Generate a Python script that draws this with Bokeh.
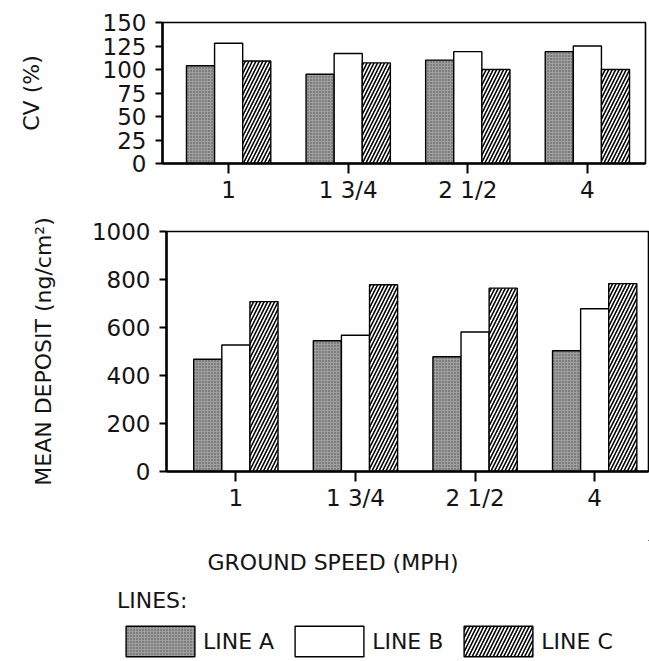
from bokeh.plotting import figure
from bokeh.models import Range1d, FixedTicker, Legend, LegendItem, ColumnDataSource, Label
from bokeh.transform import dodge
from bokeh.embed import file_html
from bokeh.resources import INLINE

# ---- data ----
speeds = ["1", "1 3/4", "2 1/2", "4"]
series_names = ["LINE A", "LINE B", "LINE C"]
cv_line_a = [104, 95, 110, 119]
cv_line_b = [128, 117, 119, 125]
cv_line_c = [109, 107, 100, 100]
dep_line_a = [468, 545, 478, 503]
dep_line_b = [527, 568, 581, 678]
dep_line_c = [708, 778, 764, 783]
cv_ticks = [0, 25, 50, 75, 100, 125, 150]
dep_ticks = [0, 200, 400, 600, 800, 1000]

FONT = "DejaVu Sans"
TXT = "#141414"
TICK_FS = "23px"
LAB_FS = "22px"
pos = list(range(1, len(speeds) + 1))
BW = 0.235

styles = [
    dict(fill_color="#9e9e9e", hatch_pattern="dot", hatch_color="#4d4d4d",
         hatch_scale=3, hatch_weight=1.0),
    dict(fill_color="white"),
    dict(fill_color="white", hatch_pattern="right_diagonal_line", hatch_color="black",
         hatch_scale=7, hatch_weight=1.6),
]


def add_bars(p, src):
    rs = []
    for off, key, st in zip([-BW, 0, BW], ["a", "b", "c"], styles):
        r = p.vbar(x=dodge("pos", off), top=key, bottom=0, width=BW, source=src,
                   line_color="black", line_width=1.4, **st)
        rs.append(r)
    return rs


def make_fig(a, b, c, ticks, xr, w, h, mbl, mbr, mbt, mbb, ylabel, lab_standoff):
    src = ColumnDataSource(dict(pos=pos, a=a, b=b, c=c))
    p = figure(width=w, height=h, output_backend="svg", toolbar_location=None,
               x_range=Range1d(*xr), y_range=Range1d(ticks[0], ticks[-1]),
               min_border_left=mbl, min_border_right=mbr,
               min_border_top=mbt, min_border_bottom=mbb)
    add_bars(p, src)
    p.xgrid.visible = False
    p.ygrid.visible = False
    p.outline_line_color = "black"
    p.outline_line_width = 1.6
    p.background_fill_color = "white"
    p.border_fill_color = "white"

    p.xaxis.ticker = FixedTicker(ticks=pos)
    p.xaxis.major_label_overrides = {i: s for i, s in zip(pos, speeds)}
    p.yaxis.ticker = FixedTicker(ticks=ticks)
    for ax in (p.xaxis, p.yaxis):
        ax.axis_line_width = 2.5
        ax.axis_line_color = "black"
        ax.major_tick_line_width = 2
        ax.major_tick_line_color = "black"
        ax.minor_tick_line_color = None
        ax.major_tick_in = 0
        ax.major_label_text_font = FONT
        ax.major_label_text_font_size = TICK_FS
        ax.major_label_text_color = TXT
    p.xaxis.major_tick_out = 10
    p.yaxis.major_tick_out = 7
    p.xaxis.major_label_standoff = 3
    p.yaxis.major_label_standoff = 9
    p.yaxis.axis_label = ylabel
    p.yaxis.axis_label_text_font = FONT
    p.yaxis.axis_label_text_font_size = LAB_FS
    p.yaxis.axis_label_text_font_style = "normal"
    p.yaxis.axis_label_text_color = TXT
    p.yaxis.axis_label_standoff = lab_standoff
    return p, src


top, _ = make_fig(cv_line_a, cv_line_b, cv_line_c, cv_ticks, (0.447, 4.486),
                  647, 215, 162, 2, 22, 52, "CV (%)", 56)
bot, dep_src = make_fig(dep_line_a, dep_line_b, dep_line_c, dep_ticks, (0.42, 4.45),
                        649, 325, 166, 1, 16, 69, "MEAN DEPOSIT (ng/cm²)", 33)

# strip below: x-axis title and key (its bar renderers lie far outside its visible
# range; only the key swatches show)
leg = figure(width=649, height=121, output_backend="svg", toolbar_location=None,
             x_axis_location=None, y_axis_location=None,
             x_range=Range1d(-10, -5), y_range=Range1d(-2000, -1000),
             min_border_left=0, min_border_right=0, min_border_top=0, min_border_bottom=0)
leg.outline_line_color = None
leg.xgrid.visible = False
leg.ygrid.visible = False
leg_rs = add_bars(leg, dep_src)

xt = Label(x=207, y=99, x_units="screen", y_units="screen", text="GROUND SPEED (MPH)",
           text_font=FONT, text_font_size=LAB_FS, text_color=TXT,
           text_align="left", text_baseline="middle")
leg.add_layout(xt)

legend = Legend(items=[LegendItem(label=n, renderers=[r]) for n, r in zip(series_names, leg_rs)],
                orientation="horizontal", title="LINES:", location=(117, 1),
                glyph_width=86, glyph_height=38, label_standoff=0, spacing=12,
                padding=0, margin=0, border_line_alpha=0, background_fill_alpha=0,
                title_standoff=9, label_text_font=FONT, label_text_font_size=LAB_FS,
                label_text_color=TXT, title_text_font=FONT, title_text_font_size=LAB_FS,
                title_text_font_style="normal", title_text_color=TXT)
leg.add_layout(legend, "center")

open("out.html", "w").write(file_html([top, bot, leg], INLINE))
